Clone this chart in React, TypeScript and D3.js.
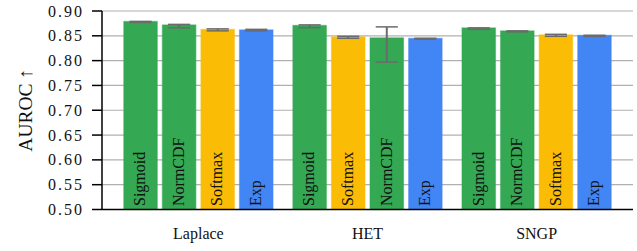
import React from "react";
import * as d3 from "d3";

const methods = ["Laplace", "HET", "SNGP"];
const linkOrder = [
  ["Sigmoid", "NormCDF", "Softmax", "Exp"],
  ["Sigmoid", "Softmax", "NormCDF", "Exp"],
  ["Sigmoid", "NormCDF", "Softmax", "Exp"],
];
const meanValues = [
  [0.879, 0.872, 0.863, 0.862],
  [0.871, 0.848, 0.846, 0.845],
  [0.866, 0.86, 0.852, 0.851],
];
const lowValues = [
  [0.877, 0.866, 0.86, 0.86],
  [0.8665, 0.845, 0.797, 0.843],
  [0.863, 0.858, 0.849, 0.849],
];
const highValues = [
  [0.879, 0.873, 0.864, 0.863],
  [0.872, 0.849, 0.868, 0.845],
  [0.866, 0.86, 0.853, 0.851],
];
const yTicks = [0.5, 0.55, 0.6, 0.65, 0.7, 0.75, 0.8, 0.85, 0.9];
const linkColors: Record<string, string> = {
  Sigmoid: "#34A853",
  NormCDF: "#34A853",
  Softmax: "#FBBC05",
  Exp: "#4285F4",
};

const W = 637;
const H = 251;
const left = 102;
const right = 633;
const top = 11;
const bottom = 209.5;
const font = "'Liberation Serif', 'Times New Roman', serif";

export default function App() {
  const y = d3.scaleLinear().domain([0.5, 0.9]).range([bottom, top]);
  const x0 = d3
    .scaleBand<string>()
    .domain(methods)
    .range([left, right])
    .paddingInner(0)
    .paddingOuter(0.07);
  const x1 = d3
    .scaleBand<number>()
    .domain([0, 1, 2, 3])
    .range([0, x0.bandwidth()])
    .paddingInner(0.13)
    .paddingOuter(0.257);
  const bw = x1.bandwidth();
  const capW = bw * 0.66;

  return (
    <svg
      width={W}
      height={H}
      style={{ position: "absolute", left: 0, top: 0, background: "#fff" }}
      fontFamily={font}
    >
      {yTicks.map((t) => (
        <line
          key={"g" + t}
          x1={left}
          x2={right}
          y1={y(t)}
          y2={y(t)}
          stroke="#b0b0b0"
          strokeWidth={1.2}
        />
      ))}
      {methods.map((m, gi) =>
        linkOrder[gi].map((lbl, bi) => {
          const bx = (x0(m) as number) + (x1(bi) as number);
          const v = meanValues[gi][bi];
          const c = linkColors[lbl];
          const cx = bx + bw / 2;
          return (
            <g key={m + lbl}>
              <rect
                x={bx}
                y={y(v)}
                width={bw}
                height={bottom - y(v)}
                fill={c}
                stroke={c}
                strokeOpacity={0.45}
                strokeWidth={1.2}
              />
              <line
                x1={cx}
                x2={cx}
                y1={y(highValues[gi][bi])}
                y2={y(lowValues[gi][bi])}
                stroke="#6b6b6b"
                strokeWidth={2}
              />
              <line
                x1={cx - capW / 2}
                x2={cx + capW / 2}
                y1={y(highValues[gi][bi])}
                y2={y(highValues[gi][bi])}
                stroke="#6b6b6b"
                strokeWidth={1.5}
              />
              <line
                x1={cx - capW / 2}
                x2={cx + capW / 2}
                y1={y(lowValues[gi][bi])}
                y2={y(lowValues[gi][bi])}
                stroke="#6b6b6b"
                strokeWidth={1.5}
              />
              <text
                transform={`translate(${cx},${bottom - 3.5}) rotate(-90)`}
                dy="0.3em"
                fontSize={16}
                fill="#111"
              >
                {lbl}
              </text>
            </g>
          );
        })
      )}
      <line x1={left} x2={left} y1={top} y2={bottom} stroke="#000" strokeWidth={1.5} />
      {yTicks.map((t) => (
        <g key={"t" + t}>
          <line x1={left - 10} x2={left} y1={y(t)} y2={y(t)} stroke="#000" strokeWidth={1.5} />
          <text
            x={84}
            y={y(t)}
            dy="0.35em"
            textAnchor="end"
            fontSize={16}
            letterSpacing={2}
            fill="#111"
          >
            {t.toFixed(2)}
          </text>
        </g>
      ))}
      <line x1={left} x2={right} y1={bottom} y2={bottom} stroke="#000" strokeWidth={1.5} />
      {methods.map((m) => (
        <text
          key={"x" + m}
          x={(x0(m) as number) + x0.bandwidth() / 2}
          y={239}
          textAnchor="middle"
          fontSize={16}
          fill="#111"
        >
          {m}
        </text>
      ))}
      <text
        transform={`translate(32,${(top + bottom) / 2}) rotate(-90)`}
        textAnchor="middle"
        fontSize={19.5}
        fill="#111"
      >
        AUROC ↑
      </text>
    </svg>
  );
}
